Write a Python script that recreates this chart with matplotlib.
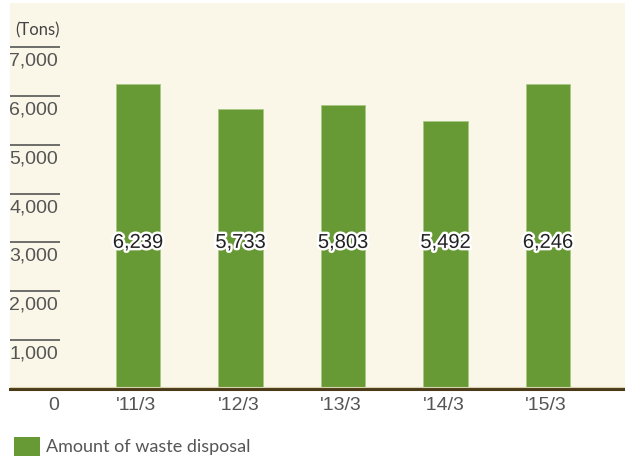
import matplotlib
matplotlib.use("Agg")
import matplotlib.pyplot as plt
from matplotlib.patches import Rectangle
import matplotlib.patheffects as pe

categories = ["'11/3", "'12/3", "'13/3", "'14/3", "'15/3"]
values = [6239, 5733, 5803, 5492, 6246]
yticks = [1000, 2000, 3000, 4000, 5000, 6000, 7000]
unit_label = "(Tons)"
legend_label = "Amount of waste disposal"

W, H = 625, 459
fig = plt.figure(figsize=(W / 100, H / 100), dpi=100, facecolor="white")

# axes: cream region from x=10..625 px, y=3..389 px (top-down)
left_px, right_px, top_px, base_px = 10, 625, 3, 389
ax = fig.add_axes([left_px / W, 1 - base_px / H, (right_px - left_px) / W, (base_px - top_px) / H])
ax.set_facecolor("#faf7e9")
for s in ax.spines.values():
    s.set_visible(False)
ax.set_xticks([])
ax.set_yticks([])

px_per_unit = 48.86 / 1000.0
ax.set_ylim(0, (base_px - top_px) / px_per_unit)
c0, step = 138, 102.5
ax.set_xlim((left_px - c0) / step, (right_px - c0) / step)

x = list(range(len(categories)))
ax.bar(x, values, width=0.43, color="#679a35", edgecolor="#a8c985", linewidth=0.6, zorder=2)

font_num = ["Liberation Sans", "DejaVu Sans"]
tick_x0 = (left_px - c0) / step
tick_x1 = (60 - c0) / step
off = 14 / px_per_unit
for v in yticks:
    ax.plot([tick_x0, tick_x1], [v, v], color="#555555", lw=1.2, solid_capstyle="butt", zorder=3, clip_on=False)
    ax.text(tick_x1 - 2 / step, v - off, f"{v:,}", ha="right", va="center", fontsize=14,
            color="#555555", family=font_num)

ax.text(tick_x1 - 0 / step, 7000 + 17 / px_per_unit, unit_label, ha="right", va="center",
        fontsize=12, color="#444444", family=["Lato", "DejaVu Sans"])

# value labels
for xi, v in zip(x, values):
    ax.text(xi, 3000, f"{v:,}", ha="center", va="center", fontsize=14.5, color="#222222",
            family=font_num, zorder=5,
            path_effects=[pe.withStroke(linewidth=3.5, foreground="white")])

# baseline
ax.axhline(0, color="#4a3a18", lw=2.2, zorder=4, clip_on=False)
ax.axhline(1.8 / px_per_unit, color="#d9d1b0", lw=0.8, zorder=4)

# x tick labels
ylab = -17 / px_per_unit
for xi, c in zip(x, categories):
    ax.text(xi - 2 / step, ylab, c, ha="center", va="center", fontsize=14, color="#555555",
            family=font_num, clip_on=False)
ax.text((54 - c0) / step, ylab, "0", ha="center", va="center", fontsize=14, color="#555555",
        family=font_num, clip_on=False)

# legend
fig.add_artist(Rectangle((14 / W, 1 - 456 / H), 26 / W, 19 / H, transform=fig.transFigure,
                         facecolor="#679a35", edgecolor="none"))
fig.text(46 / W, 1 - 447 / H, legend_label, ha="left", va="center", fontsize=13,
         color="#555555", family=["Lato", "DejaVu Sans"])

fig.savefig("out.png", dpi=100, facecolor="white")
